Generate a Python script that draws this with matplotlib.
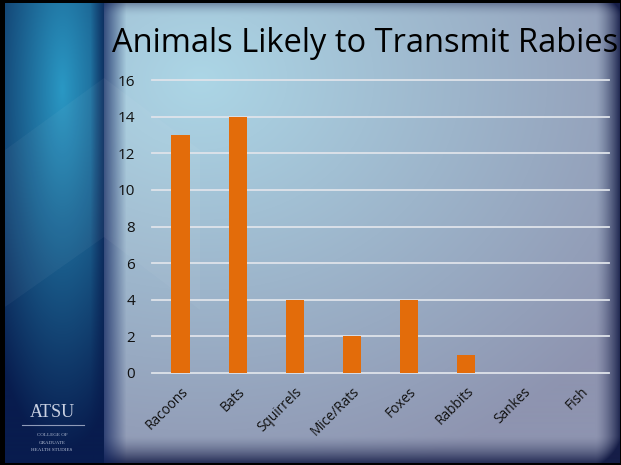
import numpy as np
import matplotlib
matplotlib.use('Agg')
import matplotlib.pyplot as plt
from matplotlib.patches import Polygon

# chart data
animals = ['Racoons', 'Bats', 'Squirrels', 'Mice/Rats', 'Foxes', 'Rabbits', 'Sankes', 'Fish']
counts = [13, 14, 4, 2, 4, 1, 0, 0]
yticks = [0, 2, 4, 6, 8, 10, 12, 14, 16]
title = 'Animals Likely to Transmit Rabies'

W, H = 621, 465
fig = plt.figure(figsize=(W / 100, H / 100), dpi=100)

# slide background built as an image
yy, xx = np.mgrid[0:H, 0:W].astype(float)
light = np.array([172, 214, 230]) / 255
grey = np.array([142, 148, 176]) / 255
navy = np.array([22, 30, 72]) / 255
d = np.clip(np.hypot((xx - 200) / 520, (yy - 80) / 420), 0, 1)[..., None]
img = light * (1 - d) + grey * d
# vignette on right, bottom, top edges
vr = np.clip((xx - 595) / 26, 0, 1) ** 1.5
vb = np.clip((yy - 435) / 30, 0, 1) ** 1.5
vt = np.clip((18 - yy) / 18, 0, 1) ** 2 * 0.6
v = np.clip(vr + vb + vt, 0, 1)[..., None]
img = img * (1 - v) + navy * v
# left strip
strip = xx < 104
cyan = np.array([42, 152, 196]) / 255
dark = np.array([8, 28, 78]) / 255
ds = np.clip(np.hypot((xx - 62) / 95, (yy - 90) / 360), 0, 1)[..., None]
simg = cyan * (1 - ds) + dark * ds
edge = np.clip((xx - 90) / 14, 0, 1)[..., None]
simg = simg * (1 - edge * 0.7) + dark * edge * 0.7
img = np.where(strip[..., None], simg, img)
# soft shadow right of strip
sh = (np.clip(1 - (xx - 104) / 22, 0, 1) * (xx >= 104))[..., None] * 0.7
img = img * (1 - sh) + np.array([10, 30, 90]) / 255 * sh
# black frame
frame = (xx < 5) | (yy < 4) | (yy > H - 3) | (xx > W - 2)
img[frame] = 0

bg = fig.add_axes([0, 0, 1, 1])
bg.imshow(img, extent=(0, W, H, 0), aspect='auto')
# faint diagonal facets
bg.add_patch(Polygon([(5, 150), (104, 78), (104, 237), (5, 307)], closed=True,
                     color='white', alpha=0.04, lw=0))
bg.add_patch(Polygon([(104, 78), (200, 150), (200, 310), (104, 237)], closed=True,
                     color='white', alpha=0.04, lw=0))
bg.set_xlim(0, W)
bg.set_ylim(H, 0)
bg.axis('off')

# ATSU logo
bg.text(52, 412, 'ATSU', family='Liberation Serif', fontsize=13, color='#c9d1e2',
        ha='center', va='center')
bg.plot([22, 84], [425, 425], color='#8f9bb8', lw=0.8)
for i, line in enumerate(['COLLEGE OF', 'GRADUATE', 'HEALTH STUDIES']):
    bg.text(52, 435 + i * 7.5, line, family='Liberation Serif', fontsize=3.6,
            color='#b8c2d8', ha='center', va='center')

bg.text(112, 43, title, family='Open Sans', fontsize=23.5, color='black',
        ha='left', va='center')

ax = fig.add_axes([152 / W, 1 - 373 / H, (609 - 152) / W, (373 - 80) / H])
ax.patch.set_alpha(0)
x = np.arange(len(animals))
ax.bar(x, counts, width=0.32, color='#E36C0A', zorder=3)
ax.set_xlim(-0.5, len(animals) - 0.5)
ax.set_ylim(0, 16)
ax.set_yticks(yticks)
for t in yticks:
    ax.axhline(t, color='#dfe3ea', lw=1.3, zorder=1, clip_on=False)
for s in ax.spines.values():
    s.set_visible(False)
ax.tick_params(length=0)
ax.set_xticks(x)
ax.set_xticklabels(animals, rotation=45, ha='right', rotation_mode='anchor',
                   family='Open Sans', fontsize=9.8, color='#111111')
for lbl in ax.get_yticklabels():
    lbl.set_family('Open Sans')
    lbl.set_fontsize(11)
    lbl.set_color('#111111')
ax.tick_params(axis='y', pad=12)
ax.tick_params(axis='x', pad=8)

fig.savefig('out.png', dpi=100)
